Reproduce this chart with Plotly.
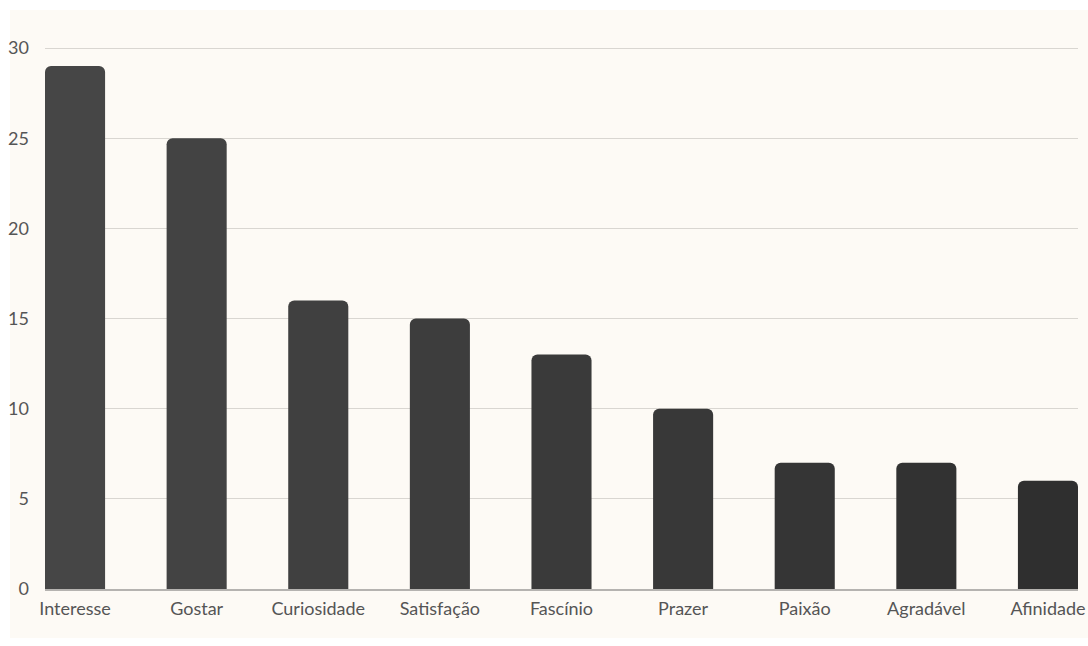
import plotly.graph_objects as go

# Categories and counts
categorias = ["Interesse", "Gostar", "Curiosidade", "Satisfação", "Fascínio",
              "Prazer", "Paixão", "Agradável", "Afinidade"]
contagens = [29, 25, 16, 15, 13, 10, 7, 7, 6]
ticks_y = [0, 5, 10, 15, 20, 25, 30]

# Bar shades step from a mid charcoal to a darker one
def shade(i, n, start=(0x46, 0x46, 0x46), end=(0x2f, 0x2f, 0x2f)):
    t = i / (n - 1)
    r, g, b = (round(s + (e - s) * t) for s, e in zip(start, end))
    return f"rgb({r},{g},{b})"

cores = [shade(i, len(categorias)) for i in range(len(categorias))]

W, H = 1088, 646
y_top = 30.06          # a hair above 30 so the top gridline is drawn
px_per_unit = 541 / 30
ml, mr, mb = 45, 10, 57
ph = y_top * px_per_unit
mt = H - mb - ph
pw = W - ml - mr

fig = go.Figure(go.Bar(
    x=categorias,
    y=contagens,
    marker=dict(color=cores, line=dict(width=0)),
    width=0.494,
    hoverinfo="x+y",
))

bg_x0, bg_x1, bg_y0, bg_y1 = 10, W, 10, H - 8
fig.add_shape(
    type="rect", xref="paper", yref="paper", layer="below",
    x0=(bg_x0 - ml) / pw, x1=(bg_x1 - ml) / pw,
    y0=(H - mb - bg_y1) / ph, y1=(H - mb - bg_y0) / ph,
    fillcolor="#fdfaf5", line=dict(width=0),
)

fig.update_layout(
    width=W, height=H,
    margin=dict(l=ml, r=mr, t=mt, b=mb, pad=0, autoexpand=False),
    paper_bgcolor="white",
    plot_bgcolor="rgba(0,0,0,0)",
    barcornerradius=6,
    showlegend=False,
    font=dict(family="Lato, 'Open Sans', sans-serif", size=18, color="#555555"),
    xaxis=dict(
        range=[-0.247, len(categorias) - 1 + 0.247],
        automargin=False,
        showgrid=False,
        showline=True, linecolor="#b5b3b0", linewidth=1.5,
        ticks="", ticklabelstandoff=3,
        tickfont=dict(size=18, color="#555555"),
        fixedrange=True,
    ),
    yaxis=dict(
        range=[0, y_top],
        automargin=False,
        tickvals=ticks_y,
        showgrid=True, gridcolor="#d9d6d1", gridwidth=1,
        zeroline=False, showline=False,
        ticks="", ticklabelstandoff=15,
        tickfont=dict(size=18, color="#555555"),
        fixedrange=True,
    ),
)

fig.write_html("out.html")
